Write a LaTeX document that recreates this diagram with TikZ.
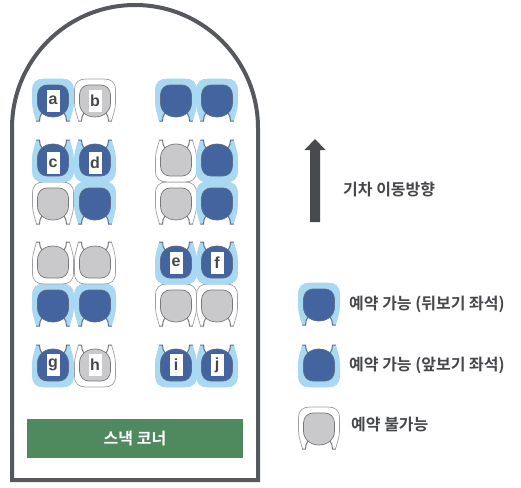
\documentclass[tikz,border=0pt]{standalone}
\usepackage{fontspec}
\setmainfont{Noto Sans CJK KR}[BoldFont={Noto Sans CJK KR Bold}]
\setsansfont{Liberation Sans}
\definecolor{seatlight}{HTML}{A9D8F2}
\definecolor{seatdark}{HTML}{44649F}
\definecolor{seatedge}{HTML}{5C6F87}
\definecolor{seatgray}{HTML}{C9C8CA}
\definecolor{grayedge}{HTML}{77787A}
\definecolor{wall}{HTML}{55585C}
\definecolor{snack}{HTML}{4F8A5E}
\definecolor{labeltext}{HTML}{45474A}
\newcommand{\seatdraw}[4]{%
  \fill[#1] (-16.5,21) .. controls (-18,15) and (-20.5,9) .. (-20.5,3)
     -- (-20.5,-10) .. controls (-20.5,-18) and (-16,-21) .. (-9,-21)
     -- (9,-21) .. controls (16,-21) and (20.5,-18) .. (20.5,-10)
     -- (20.5,3) .. controls (20.5,9) and (18,15) .. (16.5,21)
     -- (13.5,21) .. controls (13.5,18) and (13,15) .. (10,12)
     -- (-10,12) .. controls (-13,15) and (-13.5,18) .. (-13.5,21) -- cycle;
  \draw[#2,line width=0.7pt] (-16.5,21) .. controls (-18,15) and (-20.5,9) .. (-20.5,3)
     -- (-20.5,-10) .. controls (-20.5,-18) and (-16,-21) .. (-9,-21)
     -- (9,-21) .. controls (16,-21) and (20.5,-18) .. (20.5,-10)
     -- (20.5,3) .. controls (20.5,9) and (18,15) .. (16.5,21);
  \draw[#3,line width=1pt,line cap=round] (-16.5,21) -- (-13.5,21) .. controls (-13.5,18) and (-13,15) .. (-10,12);
  \draw[#3,line width=1pt,line cap=round] (16.5,21) -- (13.5,21) .. controls (13.5,18) and (13,15) .. (10,12);
  \filldraw[fill=#4,draw=#3,line width=0.7pt] (0,17) .. controls (-9,17) and (-15.5,11) .. (-15.5,3)
     -- (-15.5,-5) .. controls (-15.5,-11) and (-11,-15) .. (-6,-15)
     -- (6,-15) .. controls (11,-15) and (15.5,-11) .. (15.5,-5)
     -- (15.5,3) .. controls (15.5,11) and (9,17) .. (0,17) -- cycle;
}
\tikzset{
  pics/blueseat/.style={code={\seatdraw{seatlight}{seatlight}{seatedge}{seatdark}}},
  pics/grayseat/.style={code={\seatdraw{white}{grayedge!70}{grayedge}{seatgray}}},
  tag/.style={fill=white,inner sep=0pt,minimum width=13pt,minimum height=22pt,
    font=\sffamily\bfseries\fontsize{16}{16}\selectfont,text=labeltext},
  legendtext/.style={anchor=west,inner sep=0pt,text=labeltext,font=\bfseries\fontsize{16}{16}\selectfont},
}
\begin{document}
\begin{tikzpicture}[x=1pt,y=-1pt]
\useasboundingbox (0,0) rectangle (521,487);
\fill[white] (0,0) rectangle (521,487);
% train body
\draw[wall,line width=4pt,line join=miter] (12,480) -- (12,128)
  arc[start angle=180,end angle=360,x radius=123,y radius=123] -- (258,480) -- cycle;
% seats
\foreach \x/\y/\k in {
  53/100/blueseat,95/100/grayseat,176/100/blueseat,217/100/blueseat,
  53/203/grayseat,95/203/blueseat,176/203/grayseat,217/203/blueseat,
  53/305/blueseat,95/305/blueseat,176/305/grayseat,217/305/grayseat,
  319/304/blueseat,319/428/grayseat}
  {\pic at (\x,\y) {\k};}
\foreach \x/\y/\k in {
  53/161/blueseat,95/161/blueseat,176/161/grayseat,217/161/blueseat,
  53/263/grayseat,95/263/grayseat,176/263/blueseat,217/263/blueseat,
  53/366/blueseat,95/366/grayseat,176/366/blueseat,217/366/blueseat,
  319/366/blueseat}
  {\pic[yscale=-1] at (\x,\y) {\k};}
% seat labels
\node[tag] (a) at (53,100.5) {a};
\node[tag] (b) at (95,100.5) {b};
\node[tag] (c) at (53,163) {c};
\node[tag] (d) at (95,163) {d};
\node[tag] (e) at (176,262.5) {e};
\node[tag] (f) at (217,262.5) {f};
\node[tag] (g) at (53,364.5) {g};
\node[tag] (h) at (95,364.5) {h};
\node[tag] (i) at (176,365) {i};
\node[tag] (j) at (217,365) {j};
% snack corner
\node[fill=snack,minimum width=216pt,minimum height=39pt,inner sep=0pt,text=white,
  font=\bfseries\fontsize{16}{16}\selectfont] (snackbar) at (135,438.5) {스낵 코너};
% direction arrow
\fill[wall!85!black] (310,222) -- (310,150) -- (304.5,150) -- (315,139) -- (325.5,150) -- (320,150) -- (320,222) -- cycle;
\node[legendtext] (dir) at (343,189) {기차 이동방향};
% legend
\node[legendtext] (l1) at (349,304) {예약 가능 (뒤보기 좌석)};
\node[legendtext] (l2) at (349,365) {예약 가능 (앞보기 좌석)};
\node[legendtext] (l3) at (351,424) {예약 불가능};
\end{tikzpicture}
\end{document}
